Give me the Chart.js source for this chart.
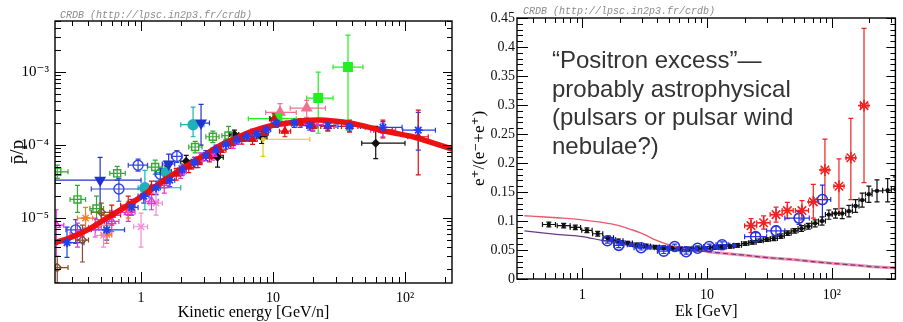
<!DOCTYPE html>
<html><head><meta charset="utf-8">
<script src="https://cdn.jsdelivr.net/npm/chart.js@4.4.1/dist/chart.umd.min.js"></script>
<style>
html,body{margin:0;padding:0;background:#fff;}
body{width:903px;height:322px;position:relative;overflow:hidden;}
canvas{position:absolute;top:0;}
#cL{left:0;} #cR{left:460px;}
</style></head><body>
<canvas id="cL" width="460" height="322" style="width:460px;height:322px"></canvas>
<canvas id="cR" width="443" height="322" style="width:443px;height:322px"></canvas>
<script>
// ---------- LEFT PANEL DATA: antiproton / proton ratio ----------
// rows: [E, value, Elo, Ehi, vlo, vhi]
const PBAR_MODEL_E = [0.223,0.3,0.4,0.55,0.75,1,1.5,2,3,4,5,7,10,13,17,22,30,38,50,65,90,115,160,227];
const PBAR_MODEL_R = [4.6e-6,5.5e-6,7.0e-6,1.0e-5,1.4e-5,1.95e-5,3.3e-5,4.6e-5,7.2e-5,1.0e-4,1.2e-4,1.55e-4,1.87e-4,2.0e-4,2.15e-4,2.2e-4,2.12e-4,2.0e-4,1.8e-4,1.6e-4,1.42e-4,1.3e-4,1.08e-4,8.8e-5];

const PBAR_GREEN_OPEN = [
 [0.232,4.3e-5,0.223,0.28,3.5e-5,5.3e-5],[0.33,1.8e-5,0.29,0.38,1.2e-5,2.8e-5],[0.46,1.35e-5,0.41,0.52,0.95e-5,2.0e-5],
 [0.66,4.1e-5,0.58,0.76,3.3e-5,5.1e-5],[1.28,5.0e-5,1.12,1.45,4.0e-5,6.2e-5],[2.57,9.4e-5,2.3,2.9,7.8e-5,1.12e-4],
 [3.5,1.3e-4,3.1,3.9,1.08e-4,1.55e-4],[4.6,1.35e-4,4.1,5.2,1.0e-4,1.8e-4]];
const PBAR_BLUE_TRIDOWN = [
 [0.49,3.3e-5,0.223,1.0,1.17e-5,6.8e-5],[1.62,5.5e-5,1.45,1.8,3.8e-5,7.5e-5],[2.85,2.0e-4,2.45,3.3,1.0e-4,3.6e-4]];
const PBAR_CYAN = [
 [2.48,1.9e-4,2.0,3.0,1.3e-4,3.3e-4],[1.07,2.6e-5,0.95,2.0,1.3e-5,4.5e-5],[1.55,4.2e-5,1.3,1.8,3.0e-5,6.0e-5]];
const PBAR_BLUE_OPEN = [
 [0.95,5.3e-5,0.8,1.12,4.4e-5,6.4e-5],[0.68,2.5e-5,0.42,1.0,1.7e-5,3.5e-5],[0.32,6.9e-6,0.27,0.37,4.5e-6,9.5e-6],
 [1.87,7.0e-5,1.7,2.05,5.8e-5,8.4e-5],[1.4,4.0e-5,1.28,1.55,3.3e-5,4.8e-5]];
const PBAR_GREEN_FILL = [
 [10.8,2.3e-4,6.5,15,1.9e-4,2.7e-4],[22,4.4e-4,18,28.5,1.45e-4,1.0e-3],[37,1.17e-3,28.5,48,1.6e-4,3.2e-3]];
const PBAR_PINK_TRI = [
 [11.3,2.8e-4,8.8,15,2.2e-4,3.7e-4],[18,3.2e-4,13.5,25,2.4e-4,4.1e-4]];
const PBAR_YELLOW = [[8.4,1.2e-4,7.0,19,7.0e-5,1.6e-4]];
const PBAR_RED = [
 [0.6,1.1e-5,0.5,0.7,0.8e-5,1.5e-5],[0.8,1.5e-5,0.7,0.9,1.1e-5,2.0e-5],[1.2,2.6e-5,1.1,1.3,2.1e-5,3.2e-5],
 [1.5,3.2e-5,1.4,1.6,2.6e-5,3.9e-5],[1.85,4.0e-5,1.7,2.0,3.3e-5,4.8e-5],[2.3,5.0e-5,2.1,2.5,4.2e-5,6.0e-5],
 [2.7,5.8e-5,2.5,2.9,4.9e-5,6.9e-5],[3.3,7.0e-5,3.0,3.6,5.9e-5,8.3e-5],[4.0,8.5e-5,3.7,4.4,7.2e-5,1.0e-4],
 [4.8,1.05e-4,4.4,5.2,9.0e-5,1.22e-4],[5.8,1.2e-4,5.3,6.3,1.03e-4,1.4e-4],[7.0,1.2e-4,6.4,7.6,1.02e-4,1.42e-4],
 [8.5,1.45e-4,7.8,9.2,1.22e-4,1.7e-4],[10.2,2.3e-4,9.4,11.2,1.95e-4,2.7e-4],[12.3,1.55e-4,11.2,13.6,1.3e-4,1.85e-4],
 [16,2.0e-4,14,18,1.75e-4,2.3e-4],[20,1.8e-4,18,22,1.55e-4,2.1e-4],[26,1.8e-4,23,29,1.55e-4,2.15e-4],
 [38,1.8e-4,33,44,1.5e-4,2.2e-4],[68,1.6e-4,58,80,1.25e-4,2.2e-4],[126,1.3e-4,105,150,3.9e-5,3.0e-4]];
const PBAR_BLUE_STAR = [
 [0.275,4.6e-6,0.232,0.37,2.9e-6,7.5e-6],[0.55,6.9e-6,0.42,0.75,5.0e-6,9.0e-6],[0.85,1.4e-5,0.75,0.95,1.1e-5,1.8e-5],
 [1.05,2.0e-5,0.95,1.15,1.6e-5,2.5e-5],[1.3,2.6e-5,1.2,1.4,2.1e-5,3.2e-5],[1.65,3.3e-5,1.5,1.8,2.7e-5,4.0e-5],
 [2.05,4.6e-5,1.9,2.2,3.8e-5,5.5e-5],[2.55,5.8e-5,2.35,2.75,4.9e-5,6.8e-5],[3.1,7.2e-5,2.85,3.35,6.1e-5,8.4e-5],
 [3.7,8.6e-5,3.4,4.0,7.4e-5,1.0e-4],[4.4,1.02e-4,4.05,4.75,8.8e-5,1.18e-4],[5.3,1.18e-4,4.9,5.7,1.02e-4,1.35e-4],
 [6.3,1.32e-4,5.8,6.8,1.15e-4,1.5e-4],[7.5,1.42e-4,6.9,8.1,1.24e-4,1.62e-4],[8.9,1.62e-4,8.2,9.6,1.42e-4,1.85e-4],
 [10.6,2.0e-4,9.7,11.6,1.75e-4,2.28e-4],[14.5,2.0e-4,12.5,16.5,1.75e-4,2.3e-4],[19,1.85e-4,16.5,21.5,1.6e-4,2.15e-4],
 [26,1.85e-4,22,30,1.6e-4,2.15e-4],[38,1.8e-4,31,46,1.55e-4,2.1e-4],[68,1.75e-4,50,95,1.45e-4,2.1e-4],
 [126,1.6e-4,96,170,8.5e-5,2.8e-4]];
const PBAR_MAGENTA = [
 [0.228,8e-6,0.223,0.26,3e-6,1.3e-5],[0.33,6e-6,0.29,0.37,4e-6,8.5e-6],[0.45,7.5e-6,0.4,0.5,5.5e-6,1.0e-5],
 [0.6,9e-6,0.53,0.68,6.5e-6,1.25e-5],[0.8,1.2e-5,0.7,0.9,9e-6,1.6e-5],[1.2,1.7e-5,1.08,1.35,1.3e-5,2.2e-5],
 [1.5,2.8e-5,1.35,1.65,2.2e-5,3.5e-5],[2.0,4.3e-5,1.8,2.2,3.5e-5,5.2e-5],[2.8,6.5e-5,2.5,3.1,5.4e-5,7.8e-5],
 [3.5,7.5e-5,3.2,3.9,6.2e-5,9e-5],[5.0,1.1e-4,4.5,5.5,9e-5,1.32e-4],[7.0,1.38e-4,6.3,7.8,1.15e-4,1.65e-4],
 [20,1.9e-4,16,24,1.6e-4,2.25e-4],[68,1.6e-4,55,85,1.3e-4,2.0e-4]];
const PBAR_PINK_OPEN = [
 [1.0,7.6e-6,0.88,1.12,4.0e-6,1.17e-5],[0.52,5.8e-6,0.45,0.6,4e-6,8e-6],[1.3,1.6e-5,1.15,1.45,1.1e-5,2.2e-5]];
const PBAR_BLACK = [
 [1.55,4.3e-5,1.4,1.7,3.5e-5,5.2e-5],[2.2,6e-5,2.0,2.4,5e-5,7.2e-5],[3.8,6.8e-5,3.4,4.2,5e-5,9e-5],
 [5.1,1.4e-4,4.7,5.5,1.2e-4,1.6e-4],[8.2,1.3e-4,7.5,9.0,1.05e-4,1.55e-4],[10.3,2.3e-4,9.5,11.2,2.0e-4,2.6e-4],
 [60,1.06e-4,47,100,6.5e-5,1.8e-4]];
const PBAR_BROWN = [
 [0.232,2.1e-6,0.223,0.28,1.3e-6,3.0e-6],[0.5,1.2e-5,0.42,0.58,0.9e-5,1.6e-5],[0.36,5e-6,0.32,0.4,2.5e-6,8e-6]];
const PBAR_ORANGE = [
 [0.38,1.0e-5,0.33,0.43,7e-6,1.4e-5],[0.55,6.0e-6,0.5,0.6,4.5e-6,8e-6],[0.8,1.3e-5,0.72,0.88,1.0e-5,1.7e-5]];

const PBAR_Y_TICKS = [1e-5,1e-4,1e-3];
const PBAR_Y_LABELS = ['10\u207B\u2075','10\u207B\u2074','10\u207B\u00B3'];
const E_TICKS = [1,10,100];
const E_LABELS = ['1','10','10\u00B2'];

// ---------- RIGHT PANEL DATA: positron fraction ----------
const POS_MODEL_E   = [0.344,0.5,0.7,1,1.4,1.9,2.4,2.9,3.4,3.9,4.9,6,7.1,10,14,20,30,46,70,100,150,220,323];
const POS_MODEL_SEC = [0.109,0.107,0.105,0.102,0.098,0.093,0.086,0.080,0.073,0.067,0.059,0.054,0.051,0.047,0.044,0.041,0.037,0.034,0.030,0.027,0.024,0.021,0.019];
const POS_MODEL_LOW = [0.083,0.079,0.076,0.073,0.067,0.062,0.059,0.057,0.055,0.054,0.052,0.050,0.049,0.047,0.044,0.041,0.037,0.034,0.030,0.027,0.024,0.021,0.019];
const POS_BLACK = [
 [0.54,0.094,0.48,0.61,0.090,0.098],[0.71,0.092,0.63,0.80,0.088,0.096],[0.88,0.089,0.80,0.97,0.085,0.093],
 [1.09,0.084,0.99,1.20,0.080,0.088],[1.33,0.078,1.21,1.46,0.074,0.082],[1.62,0.071,1.47,1.78,0.068,0.074],
 [1.95,0.066,1.79,2.12,0.063,0.069],[2.32,0.062,2.13,2.52,0.059,0.065],[2.75,0.059,2.53,2.98,0.056,0.062],
 [3.25,0.057,2.99,3.52,0.054,0.060],[3.83,0.055,3.53,4.14,0.052,0.058],[4.5,0.054,4.15,4.86,0.051,0.057],
 [5.28,0.053,4.87,5.7,0.050,0.056],[6.17,0.052,5.71,6.65,0.049,0.055],[7.2,0.052,6.66,7.76,0.049,0.055],
 [8.4,0.052,7.77,9.05,0.049,0.055],[9.8,0.053,9.06,10.55,0.050,0.056],[11.4,0.054,10.6,12.3,0.051,0.057],
 [13.2,0.055,12.3,14.2,0.052,0.058],[15.3,0.056,14.2,16.4,0.053,0.059],[17.6,0.058,16.4,18.9,0.055,0.061],
 [20.2,0.061,18.9,21.6,0.058,0.064],[23.1,0.063,21.6,24.7,0.060,0.066],[26.4,0.066,24.7,28.2,0.063,0.069],
 [30.1,0.068,28.2,32.1,0.065,0.071],[34.3,0.070,32.1,36.6,0.066,0.074],[39.0,0.074,36.6,41.6,0.070,0.078],
 [44.3,0.079,41.6,47.2,0.075,0.083],[50.3,0.083,47.2,53.6,0.079,0.087],[57.1,0.087,53.6,60.8,0.082,0.092],
 [64.8,0.091,60.8,69.0,0.086,0.096],[73.5,0.096,69.0,78.2,0.090,0.102],[83.4,0.100,78.2,88.8,0.093,0.107],
 [94.6,0.111,88.8,100.6,0.103,0.119],[107,0.113,100.6,114,0.105,0.121],[121,0.113,114,129,0.104,0.122],
 [137,0.117,129,146,0.107,0.127],[155,0.126,146,165,0.115,0.137],[175,0.136,165,186,0.124,0.148],
 [198,0.146,186,210,0.132,0.160],[230,0.152,210,255,0.133,0.171],[280,0.153,255,300,0.133,0.173],
 [323,0.155,300,350,0.134,0.176]];
const POS_BLUE = [
 [1.72,0.068,1.6,1.85,0.065,0.071],[2.05,0.063,1.9,2.2,0.060,0.066],[2.45,0.059,2.3,2.6,0.056,0.062],
 [2.9,0.056,2.7,3.1,0.053,0.059],[3.45,0.055,3.2,3.7,0.052,0.058],[4.1,0.054,3.8,4.4,0.051,0.057],
 [4.9,0.053,4.5,5.3,0.050,0.056],[5.8,0.052,5.4,6.3,0.049,0.055],[6.9,0.051,6.4,7.5,0.048,0.054],
 [8.2,0.052,7.6,8.9,0.049,0.055],[9.8,0.053,9.0,10.6,0.050,0.056],[11.7,0.055,10.7,12.7,0.052,0.058],
 [13.9,0.056,12.8,15.1,0.053,0.059],[16.6,0.058,15.2,18.0,0.055,0.061]];
const POS_OPEN = [
 [1.59,0.066,1.45,1.75,0.062,0.070],[1.96,0.058,1.8,2.15,0.054,0.062],[2.96,0.054,2.6,3.3,0.050,0.058],
 [4.5,0.048,4.0,5.0,0.044,0.052],[5.5,0.056,5.0,6.0,0.052,0.060],[6.8,0.047,6.1,7.5,0.043,0.051],
 [8.4,0.053,7.6,9.3,0.049,0.057],[10.4,0.056,9.4,11.5,0.052,0.060],[13.2,0.059,11.8,14.8,0.054,0.064],
 [24.5,0.073,20,30,0.066,0.080],[35.7,0.083,30,42,0.075,0.091],[54.6,0.105,42,66,0.094,0.116],
 [84,0.137,72,98,0.100,0.162]];
const POS_PAMELA = [
 [22.5,0.092,20,25,0.080,0.104],[28.4,0.097,25,32,0.086,0.109],[35.7,0.111,32,40,0.098,0.124],
 [44,0.118,40,49,0.104,0.132],[57.6,0.118,51,65,0.102,0.135],[71,0.133,65,78,0.105,0.163],
 [88,0.188,82,95,0.137,0.241],[114,0.160,104,125,0.113,0.207],[142,0.209,130,155,0.137,0.277],
 [181,0.299,170,195,0.166,0.432]];
const FRAC_TICKS  = [0,0.05,0.1,0.15,0.2,0.25,0.3,0.35,0.4,0.45];
const FRAC_LABELS = ['0','0.05','0.1','0.15','0.2','0.25','0.3','0.35','0.4','0.45'];
const NOTE_LINES = ['\u201CPositron excess\u201D\u2014','probably astrophysical','(pulsars or pulsar wind','nebulae?)'];
const CREDIT = 'CRDB (http://lpsc.in2p3.fr/crdb)';

// ---------- helpers ----------
const SERIF = '"Liberation Serif","DejaVu Serif",serif';
function toPts(rows){return rows.map(r=>({x:r[0],y:r[1],xMin:r[2],xMax:r[3],yMin:r[4],yMax:r[5]}));}
function series(rows,color,style,filled,radius,extra){
  return Object.assign({data:toPts(rows),errorBars:true,showLine:false,pointStyle:style,pointRadius:radius,
    pointBorderColor:color,pointBackgroundColor:filled?color:'rgba(0,0,0,0)',borderColor:color,
    backgroundColor:filled?color:'rgba(0,0,0,0)',pointBorderWidth:1.4,order:2},extra||{});
}
function curve(xs,ys,color,width,extra){
  return Object.assign({data:xs.map((x,i)=>({x:x,y:ys[i]})),showLine:true,pointRadius:0,borderColor:color,
    borderWidth:width,cubicInterpolationMode:'monotone',fill:false,order:1},extra||{});
}
function logTickList(min,max){
  const out=[];
  for(let e=Math.floor(Math.log10(min));e<=Math.ceil(Math.log10(max));e++){
    for(let k=1;k<=9;k++){const v=k*Math.pow(10,e); if(v>=min*0.999&&v<=max*1.001) out.push({v:v,major:k===1});}
  }
  return out;
}
function linTickList(step,n,majorEvery){const out=[];for(let i=0;i<=n;i++)out.push({v:+(i*step).toFixed(4),major:i%majorEvery===0});return out;}

const errorBars = {
  id:'errorBars',
  beforeDatasetsDraw(chart){
    const {ctx,chartArea:a}=chart; const xs=chart.scales.x, ys=chart.scales.y;
    ctx.save(); ctx.beginPath(); ctx.rect(a.left,a.top,a.right-a.left,a.bottom-a.top); ctx.clip();
    chart.data.datasets.forEach((ds,i)=>{
      if(!ds.errorBars) return;
      ctx.strokeStyle=ds.borderColor; ctx.lineWidth=ds.errWidth||1.2;
      ds.data.forEach(p=>{
        const px=xs.getPixelForValue(p.x), py=ys.getPixelForValue(p.y);
        const x1=xs.getPixelForValue(p.xMin), x2=xs.getPixelForValue(p.xMax);
        const y1=ys.getPixelForValue(p.yMin), y2=ys.getPixelForValue(p.yMax);
        const c=2.5;
        ctx.beginPath();
        ctx.moveTo(x1,py);ctx.lineTo(x2,py);
        ctx.moveTo(px,y1);ctx.lineTo(px,y2);
        ctx.moveTo(x1,py-c);ctx.lineTo(x1,py+c);ctx.moveTo(x2,py-c);ctx.lineTo(x2,py+c);
        ctx.moveTo(px-c,y1);ctx.lineTo(px+c,y1);ctx.moveTo(px-c,y2);ctx.lineTo(px+c,y2);
        ctx.stroke();
      });
    });
    ctx.restore();
  }
};
function makeFrame(xT,yT){
  return {id:'frameTicks',afterDatasetsDraw(chart){
    const {ctx,chartArea:a}=chart; const xs=chart.scales.x, ys=chart.scales.y;
    ctx.save(); ctx.strokeStyle='#000'; ctx.lineWidth=1.4;
    ctx.strokeRect(a.left,a.top,a.right-a.left,a.bottom-a.top);
    ctx.lineWidth=1; ctx.beginPath();
    xT.forEach(t=>{const p=Math.round(xs.getPixelForValue(t.v))+0.5; const L=t.major?11:6;
      ctx.moveTo(p,a.bottom);ctx.lineTo(p,a.bottom-L);ctx.moveTo(p,a.top);ctx.lineTo(p,a.top+(t.major?10:5));});
    yT.forEach(t=>{const p=Math.round(ys.getPixelForValue(t.v))+0.5; const L=t.major?11:6;
      ctx.moveTo(a.left,p);ctx.lineTo(a.left+L,p);ctx.moveTo(a.right,p);ctx.lineTo(a.right-(t.major?9:5),p);});
    ctx.stroke(); ctx.restore();
  }};
}
function makeText(credit,cx,cy,note){
  return {id:'texts',afterDraw(chart){
    const ctx=chart.ctx; ctx.save();
    ctx.font='italic 10px "Liberation Mono","DejaVu Sans Mono",monospace'; ctx.fillStyle='#8a8a8a';
    ctx.textBaseline='middle'; ctx.textAlign='left'; ctx.fillText(credit,cx,cy);
    if(note){ctx.font='24px "Liberation Sans",Arial,sans-serif'; ctx.fillStyle='#333';ctx.textBaseline='alphabetic';
      note.lines.forEach((s,i)=>ctx.fillText(s,note.x,note.y+i*note.dy));}
    ctx.restore();
  }};
}
function axisTicks(values,labels){
  return {afterBuildTicks:s=>{s.ticks=values.map(v=>({value:v}));},
          ticks:{callback:(v,i)=>labels[i]}};
}

// ---------- LEFT CHART ----------
const Lxmin=0.223,Lxmax=227,Lymin=1.29e-6,Lymax=5.0e-3;
new Chart(document.getElementById('cL'),{
  type:'scatter',
  data:{datasets:[
    curve(PBAR_MODEL_E,PBAR_MODEL_R,'#ee1111',5.5,{order:1}),
    series(PBAR_BLUE_STAR,'#1f3ff0','star',true,4.5,{order:0,pointBorderWidth:1.8}),
    series(PBAR_RED,'#e01010','triangle',true,4,{order:0}),
    series(PBAR_GREEN_OPEN,'#33a833','rect',false,5),
    series(PBAR_BLUE_TRIDOWN,'#2233cc','triangle',true,5.5,{pointRotation:180}),
    series(PBAR_CYAN,'#20b0b8','circle',true,5),
    series(PBAR_BLUE_OPEN,'#3344dd','circle',false,5),
    series(PBAR_GREEN_FILL,'#22ee22','rect',true,6),
    series(PBAR_PINK_TRI,'#f07090','triangle',true,5.5),
    series(PBAR_YELLOW,'#d8cc20','circle',true,1.5),
    series(PBAR_MAGENTA,'#dd33dd','triangle',false,4.5),
    series(PBAR_PINK_OPEN,'#f38ad8','crossRot',false,4.5),
    series(PBAR_BLACK,'#111111','rectRot',true,3.5),
    series(PBAR_BROWN,'#8b4a2a','rectRot',false,4),
    series(PBAR_ORANGE,'#f08020','star',false,4.5)
  ]},
  options:{
    responsive:false,animation:false,events:[],
    layout:{padding:{left:0,top:21,right:8,bottom:0}},
    plugins:{legend:{display:false},tooltip:{enabled:false}},
    scales:{
      x:Object.assign({type:'logarithmic',min:Lxmin,max:Lxmax,grid:{display:false,drawTicks:false},border:{display:false},
        afterFit:s=>{s.height=39;},
        title:{display:true,text:'Kinetic energy [GeV/n]',color:'#000',font:{family:SERIF,size:16},padding:{top:0,bottom:0}}},
        axisTicks(E_TICKS,E_LABELS),
        {ticks:{callback:(v,i)=>E_LABELS[i],padding:7,color:'#000',font:{family:SERIF,size:14},maxRotation:0,autoSkip:false}}),
      y:Object.assign({type:'logarithmic',min:Lymin,max:Lymax,grid:{display:false,drawTicks:false},border:{display:false},
        afterFit:s=>{s.width=55;},
        title:{display:true,text:'p\u0304/p',color:'#000',font:{family:SERIF,size:19},padding:{top:7,bottom:0}}},
        axisTicks(PBAR_Y_TICKS,PBAR_Y_LABELS),
        {ticks:{callback:(v,i)=>PBAR_Y_LABELS[i],padding:6,color:'#000',font:{family:SERIF,size:15},autoSkip:false}})
    }
  },
  plugins:[errorBars,makeFrame(logTickList(Lxmin,Lxmax),logTickList(Lymin,Lymax)),makeText(CREDIT,60,15,null)]
});

// ---------- RIGHT CHART ----------
const Rxmin=0.344,Rxmax=323;
new Chart(document.getElementById('cR'),{
  type:'scatter',
  data:{datasets:[
    series(POS_PAMELA,'#ee2222','star',false,6,{order:0,pointBorderWidth:1.6}),
    series(POS_OPEN,'#2233dd','circle',false,5,{order:0,pointBorderWidth:1.6}),
    series(POS_BLUE,'#2233ee','circle',true,1.5,{order:1}),
    series(POS_BLACK,'#111111','circle',true,1.5,{order:2}),
    curve(POS_MODEL_E,POS_MODEL_LOW,'#6a3a8a',1.2,{order:3,cubicInterpolationMode:'monotone',
      segment:{borderDash:c=>c.p0.parsed.x>=10?[5,3]:undefined}}),
    curve(POS_MODEL_E,POS_MODEL_SEC,'#e65a6e',1.4,{order:4,
      segment:{borderWidth:c=>c.p0.parsed.x>=10?3:undefined,borderColor:c=>c.p0.parsed.x>=10?'#f090a8':undefined}})
  ]},
  options:{
    responsive:false,animation:false,events:[],
    layout:{padding:{left:0,top:18,right:1,bottom:0}},
    plugins:{legend:{display:false},tooltip:{enabled:false}},
    scales:{
      x:Object.assign({type:'logarithmic',min:Rxmin,max:Rxmax,grid:{display:false,drawTicks:false},border:{display:false},
        afterFit:s=>{s.height=43;},
        title:{display:true,text:'Ek [GeV]',color:'#000',font:{family:SERIF,size:16},padding:{top:0,bottom:1}}},
        axisTicks(E_TICKS,E_LABELS),
        {ticks:{callback:(v,i)=>E_LABELS[i],padding:8,color:'#000',font:{family:SERIF,size:14},maxRotation:0,autoSkip:false}}),
      y:Object.assign({type:'linear',min:0,max:0.45,grid:{display:false,drawTicks:false},border:{display:false},
        afterFit:s=>{s.width=57;},
        title:{display:true,text:'e\u207A/(e\u207B+e\u207A)',color:'#000',font:{family:SERIF,size:17},padding:{top:9,bottom:0}}},
        axisTicks(FRAC_TICKS,FRAC_LABELS),
        {ticks:{callback:(v,i)=>FRAC_LABELS[i],padding:2,color:'#111',font:{family:SERIF,size:14},autoSkip:false}})
    }
  },
  plugins:[errorBars,makeFrame(logTickList(Rxmin,Rxmax),linTickList(0.01,45,5)),
    makeText(CREDIT,63,11,{lines:NOTE_LINES,x:92,y:68,dy:28.7})]
});
</script></body></html>
